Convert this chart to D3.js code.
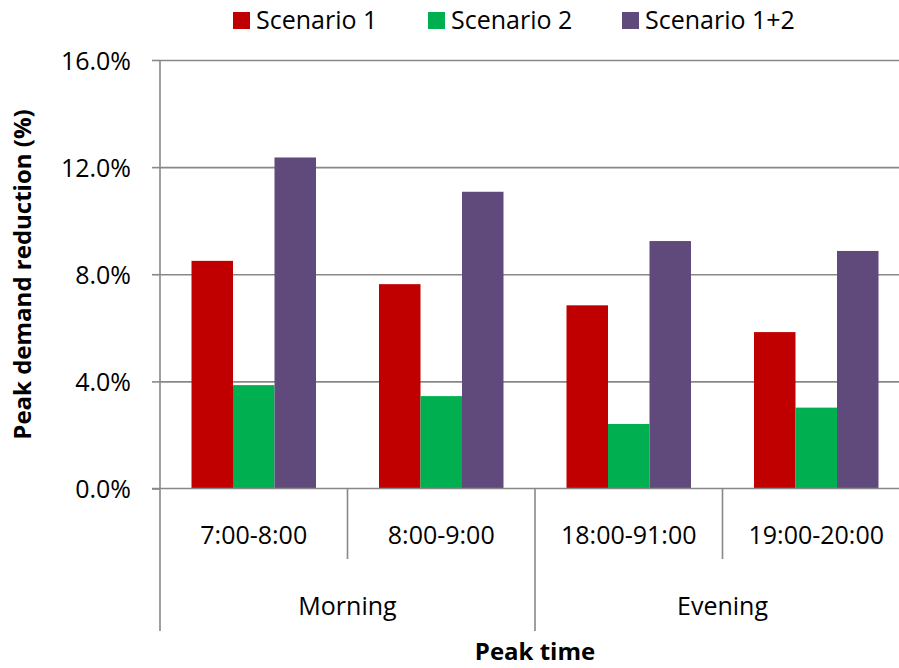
<!DOCTYPE html>
<html>
<head>
<meta charset="utf-8">
<script src="https://cdn.jsdelivr.net/npm/d3@7"></script>
<style>
  html, body { margin: 0; padding: 0; background: #fff; }
  svg { display: block; font-family: "Open Sans", "Noto Sans", sans-serif; }
</style>
</head>
<body>
<svg id="chart" width="899" height="668"></svg>
<script>
// ---- data ----
const categories = ["7:00-8:00", "8:00-9:00", "18:00-91:00", "19:00-20:00"];
const groups = ["Morning", "Morning", "Evening", "Evening"];
const seriesNames = ["Scenario 1", "Scenario 2", "Scenario 1+2"];
const scenario1 = [8.5, 7.63, 6.84, 5.84];
const scenario2 = [3.86, 3.45, 2.41, 3.02];
const scenario12 = [12.36, 11.08, 9.24, 8.87];
const yTicks = [0, 4, 8, 12, 16];
const colors = ["#C00000", "#00B050", "#604A7B"];

const seriesValues = [scenario1, scenario2, scenario12];

// ---- layout ----
const svg = d3.select("#chart");
const plotLeft = 160, plotRight = 910, plotTop = 60, plotBottom = 488.5;
const gray = "#888888";

const x = d3.scaleBand().domain(categories).range([plotLeft, plotRight]).paddingInner(0).paddingOuter(0);
const xSub = d3.scaleBand().domain(seriesNames).range([31.5, x.bandwidth() - 31.5]).padding(0);
const y = d3.scaleLinear().domain([0, 16]).range([plotBottom, plotTop]);

// gridlines
svg.append("g")
  .attr("transform", `translate(${plotLeft},0)`)
  .call(d3.axisLeft(y).tickValues(yTicks.filter(d => d > 0)).tickSize(-(plotRight - plotLeft)).tickFormat(""))
  .call(g => g.select(".domain").remove())
  .call(g => g.selectAll("line").attr("stroke", gray).attr("stroke-width", 1.6));

// bars
const catG = svg.append("g").selectAll("g")
  .data(categories)
  .join("g")
  .attr("transform", d => `translate(${x(d)},0)`);

catG.selectAll("rect")
  .data((d, i) => seriesNames.map((s, j) => ({ s, j, v: seriesValues[j][i] })))
  .join("rect")
  .attr("x", d => xSub(d.s))
  .attr("width", xSub.bandwidth())
  .attr("y", d => y(d.v))
  .attr("height", d => y(0) - y(d.v))
  .attr("fill", d => colors[d.j]);

// y axis
const yAxis = svg.append("g")
  .attr("transform", `translate(${plotLeft},0)`)
  .call(d3.axisLeft(y).tickValues(yTicks).tickSize(8).tickPadding(21).tickFormat(d => d.toFixed(1) + "%"));
yAxis.select(".domain").attr("stroke", gray).attr("stroke-width", 1.6).attr("d", `M0,${plotTop}V${plotBottom}`);
yAxis.selectAll(".tick line").attr("stroke", gray).attr("stroke-width", 1.6);
yAxis.selectAll(".tick text")
  .attr("font-size", 25).attr("fill", "#000").attr("font-family", "'Open Sans', sans-serif").attr("dy", "0.36em");

// x axis baseline
svg.append("line")
  .attr("x1", plotLeft - 8).attr("x2", plotRight)
  .attr("y1", y(0)).attr("y2", y(0))
  .attr("stroke", gray).attr("stroke-width", 1.6);

// category separators
const catBounds = categories.map(c => x(c) + x.bandwidth()).slice(0, -1);
const groupBounds = [plotLeft];
categories.forEach((c, i) => {
  if (i > 0 && groups[i] !== groups[i - 1]) groupBounds.push(x(c));
});
groupBounds.push(plotRight);

svg.append("g").selectAll("line")
  .data(catBounds.filter(b => !groupBounds.includes(b)))
  .join("line")
  .attr("x1", d => d).attr("x2", d => d)
  .attr("y1", y(0)).attr("y2", 559)
  .attr("stroke", gray).attr("stroke-width", 1.6);

svg.append("g").selectAll("line")
  .data(groupBounds)
  .join("line")
  .attr("x1", d => d).attr("x2", d => d)
  .attr("y1", y(0)).attr("y2", 631)
  .attr("stroke", gray).attr("stroke-width", 1.6);

// category labels
svg.append("g").selectAll("text")
  .data(categories)
  .join("text")
  .attr("x", d => x(d) + x.bandwidth() / 2)
  .attr("y", 544)
  .attr("text-anchor", "middle")
  .attr("font-size", 25)
  .text(d => d);

// group labels
const uniqueGroups = Array.from(new Set(groups));
svg.append("g").selectAll("text")
  .data(uniqueGroups)
  .join("text")
  .attr("x", g => {
    const cats = categories.filter((c, i) => groups[i] === g);
    return (x(cats[0]) + x(cats[cats.length - 1]) + x.bandwidth()) / 2;
  })
  .attr("y", 615)
  .attr("text-anchor", "middle")
  .attr("font-size", 25)
  .text(d => d);

// axis titles
svg.append("text")
  .attr("x", 535).attr("y", 660)
  .attr("text-anchor", "middle")
  .attr("font-size", 24).attr("font-weight", "bold")
  .text("Peak time");

svg.append("text")
  .attr("transform", "translate(31,274.5) rotate(-90)")
  .attr("text-anchor", "middle")
  .attr("font-size", 24).attr("font-weight", "bold")
  .text("Peak demand reduction (%)");

// legend
const legendX = [233, 428, 622];
const leg = svg.append("g").selectAll("g")
  .data(seriesNames)
  .join("g")
  .attr("transform", (d, i) => `translate(${legendX[i]},0)`);
leg.append("rect").attr("x", 0).attr("y", 12).attr("width", 17).attr("height", 17).attr("fill", (d, i) => colors[i]);
leg.append("text").attr("x", 23).attr("y", 29).attr("font-size", 25).text(d => d);
</script>
</body>
</html>
